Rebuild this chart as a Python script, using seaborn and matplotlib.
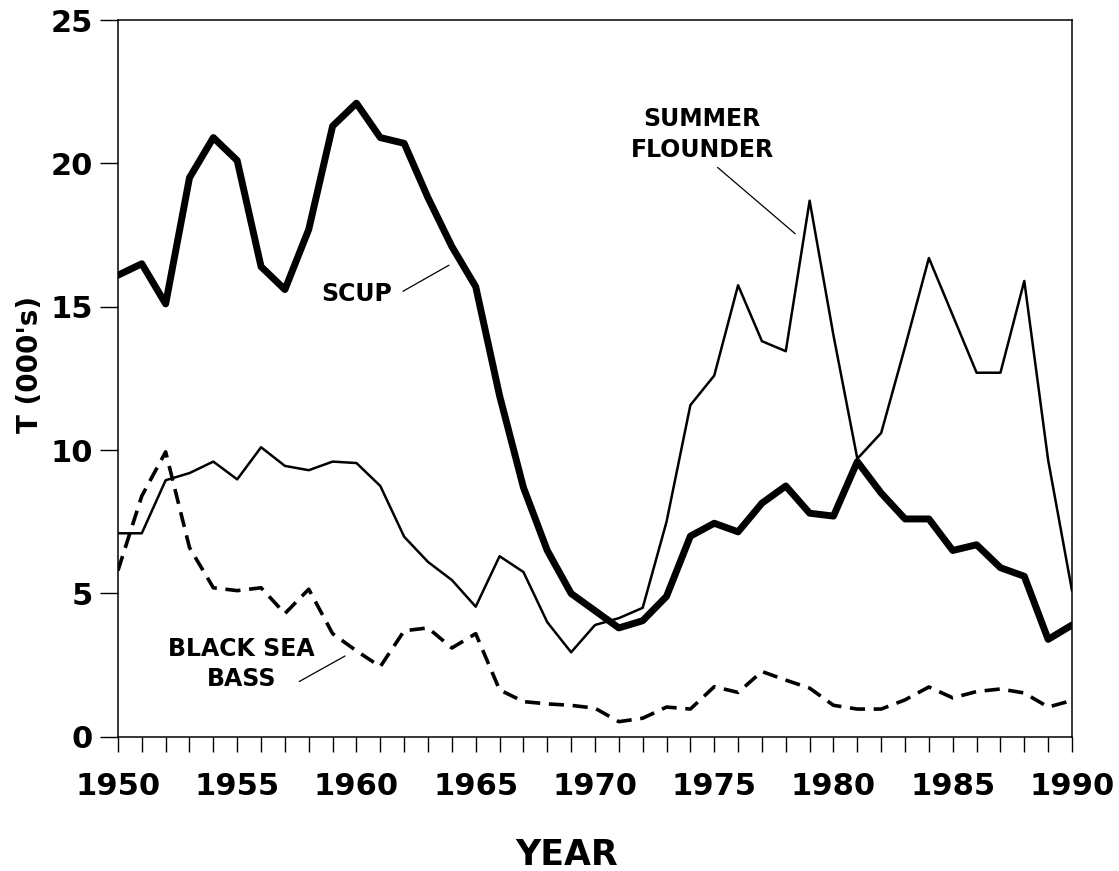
import matplotlib
matplotlib.use("Agg")
import matplotlib.pyplot as plt
import seaborn as sns
import pandas as pd
from matplotlib.ticker import MultipleLocator

years = list(range(1950, 1991))

scup = [16.1, 16.5, 15.1, 19.5, 20.9, 20.1, 16.4, 15.6, 17.7, 21.3,
        22.1, 20.9, 20.7, 18.8, 17.1, 15.7, 11.9, 8.7, 6.5, 5.0,
        4.4, 3.8, 4.05, 4.9, 7.0, 7.45, 7.15, 8.15, 8.75, 7.8,
        7.7, 9.6, 8.5, 7.6, 7.6, 6.5, 6.7, 5.9, 5.6, 3.4, 3.9]

summer_flounder = [7.1, 7.1, 8.95, 9.2, 9.6, 8.98, 10.1, 9.45, 9.3, 9.6,
                   9.55, 8.75, 6.98, 6.1, 5.47, 4.54, 6.3, 5.75, 4.0, 2.95,
                   3.9, 4.14, 4.5, 7.5, 11.57, 12.6, 15.75, 13.8, 13.45, 18.7,
                   14.0, 9.7, 10.6, 13.6, 16.7, 14.7, 12.7, 12.7, 15.9, 9.65, 5.1]

black_sea_bass = [5.8, 8.4, 9.94, 6.6, 5.2, 5.1, 5.2, 4.3, 5.15, 3.6,
                  3.0, 2.45, 3.7, 3.8, 3.1, 3.6, 1.64, 1.23, 1.15, 1.1,
                  1.0, 0.53, 0.65, 1.04, 0.97, 1.75, 1.55, 2.28, 1.98, 1.7,
                  1.1, 0.97, 0.97, 1.29, 1.74, 1.36, 1.58, 1.67, 1.53, 1.04, 1.27]

x_ticks = [1950, 1955, 1960, 1965, 1970, 1975, 1980, 1985, 1990]
y_ticks = [0, 5, 10, 15, 20, 25]

df = pd.DataFrame({
    "year": years * 3,
    "value": scup + summer_flounder + black_sea_bass,
    "species": ["SCUP"] * len(years) + ["SUMMER FLOUNDER"] * len(years)
               + ["BLACK SEA BASS"] * len(years),
})

sns.set_style("ticks")
plt.rcParams["font.family"] = ["DejaVu Sans"]
plt.rcParams["font.weight"] = "bold"
plt.rcParams["axes.labelcolor"] = "black"
plt.rcParams["text.color"] = "black"

fig = plt.figure(figsize=(11.19, 8.71), dpi=100)
ax = fig.add_axes([0.1054, 0.154, 0.8526, 0.823])

sns.lineplot(data=df[df.species == "SCUP"], x="year", y="value",
             color="black", linewidth=5.0, ax=ax, legend=False)
sns.lineplot(data=df[df.species == "SUMMER FLOUNDER"], x="year", y="value",
             color="black", linewidth=1.8, ax=ax, legend=False)
sns.lineplot(data=df[df.species == "BLACK SEA BASS"], x="year", y="value",
             color="black", linewidth=2.6, ax=ax, legend=False,
             dashes=False)
ax.lines[-1].set_dashes((4.2, 2.4))

ax.set_xlim(1950, 1990)
ax.set_ylim(0, 25)
ax.set_xticks(x_ticks)
ax.set_yticks(y_ticks)
ax.xaxis.set_minor_locator(MultipleLocator(1))

for s in ax.spines.values():
    s.set_visible(True)
    s.set_linewidth(1.1)
    s.set_color("black")

ax.tick_params(axis="x", which="both", direction="out", length=11, width=1.0,
               labelsize=22, pad=14, colors="black")
ax.tick_params(axis="y", which="major", direction="out", length=13, width=1.0,
               labelsize=22, pad=5, colors="black")
for lab in ax.get_xticklabels() + ax.get_yticklabels():
    lab.set_fontweight("bold")

ax.set_xlabel("YEAR", fontsize=25, fontweight="bold", color="black")
ax.xaxis.set_label_coords(0.47, -0.141)
ax.set_ylabel("T (000's)", fontsize=20, fontweight="bold", color="black")
ax.yaxis.set_label_coords(-0.078, 0.52)

ann = dict(fontsize=17, fontweight="bold", ha="center", va="center", color="black")
ax.text(1960.02, 15.44, "SCUP", **ann)
ax.plot([1961.95, 1963.88], [15.54, 16.45], color="black", linewidth=0.9)

ax.text(1974.49, 21.0, "SUMMER\nFLOUNDER", linespacing=1.35, **ann)
ax.plot([1975.14, 1978.39], [19.86, 17.55], color="black", linewidth=0.9)

ax.text(1955.18, 2.54, "BLACK SEA\nBASS", linespacing=1.35, **ann)
ax.plot([1957.60, 1959.52], [1.93, 2.82], color="black", linewidth=0.9)

fig.savefig("out.png", dpi=100)
